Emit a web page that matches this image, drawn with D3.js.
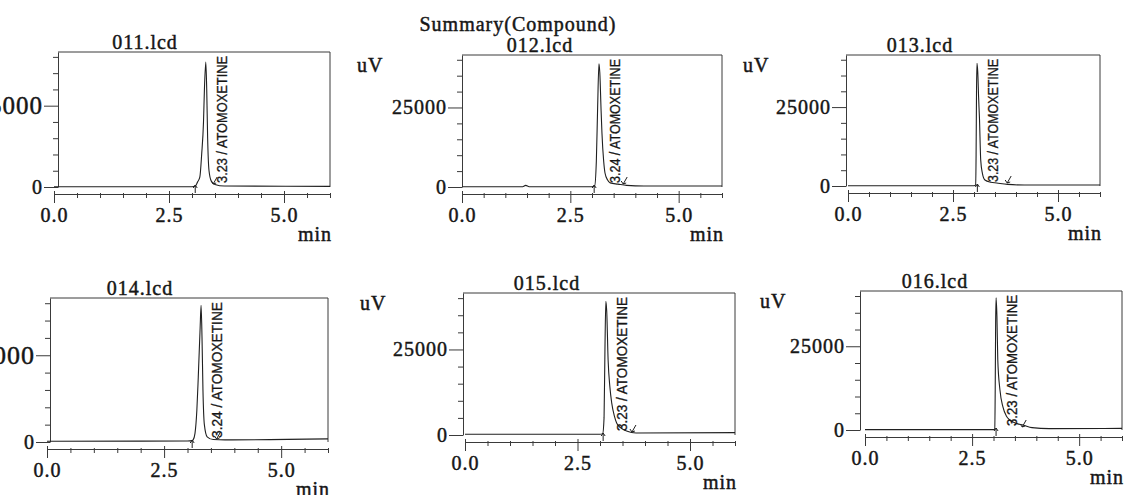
<!DOCTYPE html>
<html>
<head>
<meta charset="utf-8">
<script src="https://cdn.jsdelivr.net/npm/d3@7"></script>
<style>
  body { margin: 0; background: #fff; }
  svg { display: block; }
  .scan-text { stroke: #161616; stroke-width: 0.45px; }
</style>
</head>
<body>
<svg id="chart" width="1131" height="495"></svg>
<script>
const fileNames = ["011.lcd", "012.lcd", "013.lcd", "014.lcd", "015.lcd", "016.lcd"];
const peakLabels = [
  "3.23 / ATOMOXETINE", "3.24 / ATOMOXETINE", "3.23 / ATOMOXETINE",
  "3.24 / ATOMOXETINE", "3.23 / ATOMOXETINE", "3.23 / ATOMOXETINE"
];
const xTickLabels = [0, 2.5, 5.0];
const yTickLabels = [0, 25000];
const peakStart = [3.07, 3.05, 3.08, 3.1, 3.07, 3.06];
const peakEnd = [3.46, 3.72, 3.79, 3.62, 3.71, 3.67];

// [min, uV]
const trace011 = [[0, 100], [3.0, 100], [3.07, 300], [3.12, 1500], [3.17, 3000], [3.21, 10000],
  [3.25, 20000], [3.27, 30000], [3.3, 38400], [3.32, 30000], [3.34, 15000], [3.37, 5000],
  [3.42, 1800], [3.5, 800], [3.7, 300], [6.0, 200]];
const trace012 = [[0, 100], [1.4, 100], [1.47, 500], [1.55, 100], [3.0, 100], [3.06, 300],
  [3.1, 8000], [3.13, 25000], [3.16, 38750], [3.18, 36000], [3.21, 24000], [3.23, 16900],
  [3.27, 8000], [3.3, 4400], [3.36, 2200], [3.42, 1300], [3.6, 900], [3.8, 500], [4.2, 300], [6.0, 300]];
const trace013 = [[0, 100], [3.0, 100], [3.04, 300], [3.05, 10000], [3.06, 30000], [3.07, 38900],
  [3.09, 36000], [3.11, 28000], [3.13, 21500], [3.16, 8200], [3.2, 4000], [3.26, 1900],
  [3.4, 1200], [3.54, 950], [3.8, 500], [4.2, 300], [6.0, 300]];
const trace014 = [[0, 200], [3.0, 300], [3.1, 400], [3.12, 600], [3.16, 2500], [3.2, 9200],
  [3.23, 18700], [3.27, 33000], [3.29, 39400], [3.31, 30000], [3.33, 15000], [3.36, 5000],
  [3.42, 1500], [3.55, 700], [3.8, 600], [6.0, 900]];
const trace015 = [[0, 200], [3.0, 200], [3.06, 400], [3.09, 5000], [3.11, 25000], [3.13, 39100],
  [3.15, 36000], [3.18, 22000], [3.22, 14000], [3.26, 9400], [3.32, 5500], [3.37, 3500],
  [3.45, 2200], [3.59, 1200], [3.8, 600], [6.0, 700]];
const trace016 = [[0, 100], [3.0, 100], [3.03, 300], [3.04, 12000], [3.05, 32000], [3.06, 39500],
  [3.08, 34000], [3.1, 21000], [3.15, 12000], [3.22, 6900], [3.3, 4200], [3.38, 3000],
  [3.55, 1900], [3.69, 1500], [3.9, 700], [4.3, 400], [6.0, 500]];

const traces = [trace011, trace012, trace013, trace014, trace015, trace016];

// where each scanned panel sits on the page (ax = y axis position)
const layout = [
  { x0: 54, x6: 330, ax: 58, top: 52, zero: 187, titleX: 145, yFs: 25 },
  { x0: 462, x6: 722, ax: 462, top: 55, zero: 187, titleX: 540, yFs: 20 },
  { x0: 848, x6: 1100, ax: 846, top: 55, zero: 186, titleX: 920, yFs: 20 },
  { x0: 47, x6: 328, ax: 50, top: 298, zero: 442, titleX: 140, yFs: 26 },
  { x0: 465, x6: 735, ax: 463, top: 293, zero: 435, titleX: 547, yFs: 20 },
  { x0: 865, x6: 1122, ax: 860, top: 291, zero: 430, titleX: 935, yFs: 20 }
];

const serif = "'Liberation Serif', 'Times New Roman', serif";
const ink = "#161616";
const lineInk = "#3a3a3a";

const svg = d3.select("#chart");
svg.append("rect").attr("width", 1131).attr("height", 495).attr("fill", "#fff");

function serifText(sel) {
  return sel
    .attr("class", "scan-text")
    .attr("font-family", serif)
    .attr("fill", ink)
    .style("font-size", "20px")
    .style("letter-spacing", "1px");
}

serifText(svg.append("text"))
  .attr("x", 518)
  .attr("y", 31)
  .attr("text-anchor", "middle")
  .text("Summary(Compound)");

function drawPanel(i) {
  const L = layout[i];
  const trace = traces[i];
  const xScale = d3.scaleLinear().domain([0, 6]).range([L.x0, L.x6]);
  const yScale = d3.scaleLinear().domain([0, 41500]).range([L.zero, L.top]);
  const axisY = L.zero + 7;
  const g = svg.append("g");

  // frame
  g.append("path")
    .attr("d", `M${L.ax},${L.top}H${L.x6}V${L.zero}`)
    .attr("fill", "none")
    .attr("stroke", lineInk)
    .attr("stroke-width", 1);

  // y axis
  const yAxis = g
    .append("g")
    .attr("transform", `translate(${L.ax},0)`)
    .call(
      d3.axisLeft(yScale)
        .tickValues(d3.range(0, 40001, 5000))
        .tickFormat((d) => (yTickLabels.includes(d) ? d : ""))
        .tickSize(5)
        .tickSizeOuter(0)
        .tickPadding(10)
    )
    .attr("font-family", serif)
    .attr("font-size", L.yFs);
  yAxis.select(".domain").attr("stroke", lineInk);
  yAxis.selectAll(".tick line").attr("stroke", lineInk)
    .filter((d) => yTickLabels.includes(d)).attr("x2", -14);
  yAxis.selectAll("text").attr("fill", ink).attr("class", "scan-text")
    .style("letter-spacing", "1px");
  // the zero label keeps the normal size
  yAxis.selectAll(".tick text").filter((d) => d === 0).attr("font-size", 20);

  // x axis
  const xAxis = g
    .append("g")
    .attr("transform", `translate(0,${axisY})`)
    .call(
      d3.axisBottom(xScale)
        .tickValues(d3.range(0, 6.01, 0.5))
        .tickFormat((d) => (xTickLabels.includes(d) ? d.toFixed(1) : ""))
        .tickSize(4)
        .tickSizeOuter(0)
        .tickPadding(10)
    )
    .attr("font-family", serif)
    .attr("font-size", 20);
  xAxis.select(".domain").attr("stroke", lineInk);
  xAxis.selectAll(".tick line").attr("stroke", lineInk).attr("y1", -1)
    .filter((d) => xTickLabels.includes(d)).attr("y1", -3).attr("y2", 9);
  xAxis.selectAll("text").attr("fill", ink).attr("class", "scan-text")
    .style("letter-spacing", "1px");

  // titles
  serifText(g.append("text"))
    .attr("x", L.titleX)
    .attr("y", L.top - 3)
    .attr("text-anchor", "middle")
    .text(fileNames[i]);

  // the scan crops away the unit of the left column
  if (L.x0 - 105 > 0) {
    serifText(g.append("text"))
      .attr("x", L.x0 - 105)
      .attr("y", L.top + 17)
      .text("uV");
  }

  serifText(g.append("text"))
    .attr("x", L.x6 + 2)
    .attr("y", axisY + 47)
    .attr("text-anchor", "end")
    .text("min");

  // chromatogram
  const line = d3.line()
    .x((d) => xScale(d[0]))
    .y((d) => yScale(d[1]))
    .curve(d3.curveMonotoneX);

  g.append("path")
    .datum(trace)
    .attr("d", line)
    .attr("fill", "none")
    .attr("stroke", "#202020")
    .attr("stroke-width", 1.1);

  // integration marks
  const sx = xScale(peakStart[i]);
  g.append("path")
    .attr("d", `M${sx},${L.zero + 6}V${L.zero - 2}M${sx - 2},${L.zero + 1}L${sx},${L.zero - 2}L${sx + 2},${L.zero + 1}`)
    .attr("fill", "none")
    .attr("stroke", "#202020")
    .attr("stroke-width", 1);

  const ex = xScale(peakEnd[i]);
  g.append("path")
    .attr("d", `M${ex + 4},${L.zero - 10}L${ex},${L.zero - 3}M${ex - 2},${L.zero - 6}L${ex},${L.zero - 3}L${ex + 3},${L.zero - 4}`)
    .attr("fill", "none")
    .attr("stroke", "#202020")
    .attr("stroke-width", 1);

  // peak label
  const apex = d3.greatest(trace, (d) => d[1]);
  const lx = xScale(apex[0]) + 16;
  const y1 = L.zero - 4;
  const y2 = L.top + 4;
  g.append("text")
    .attr("transform", `translate(${lx},${y1}) rotate(-90)`)
    .attr("dy", "0.35em")
    .attr("font-family", "'Liberation Sans', Arial, sans-serif")
    .attr("fill", ink)
    .attr("stroke", ink)
    .attr("stroke-width", 0.3)
    .attr("textLength", y1 - y2)
    .attr("lengthAdjust", "spacingAndGlyphs")
    .style("font-size", "14px")
    .text(peakLabels[i]);
}

for (let i = 0; i < layout.length; i++) {
  drawPanel(i);
}
</script>
</body>
</html>
